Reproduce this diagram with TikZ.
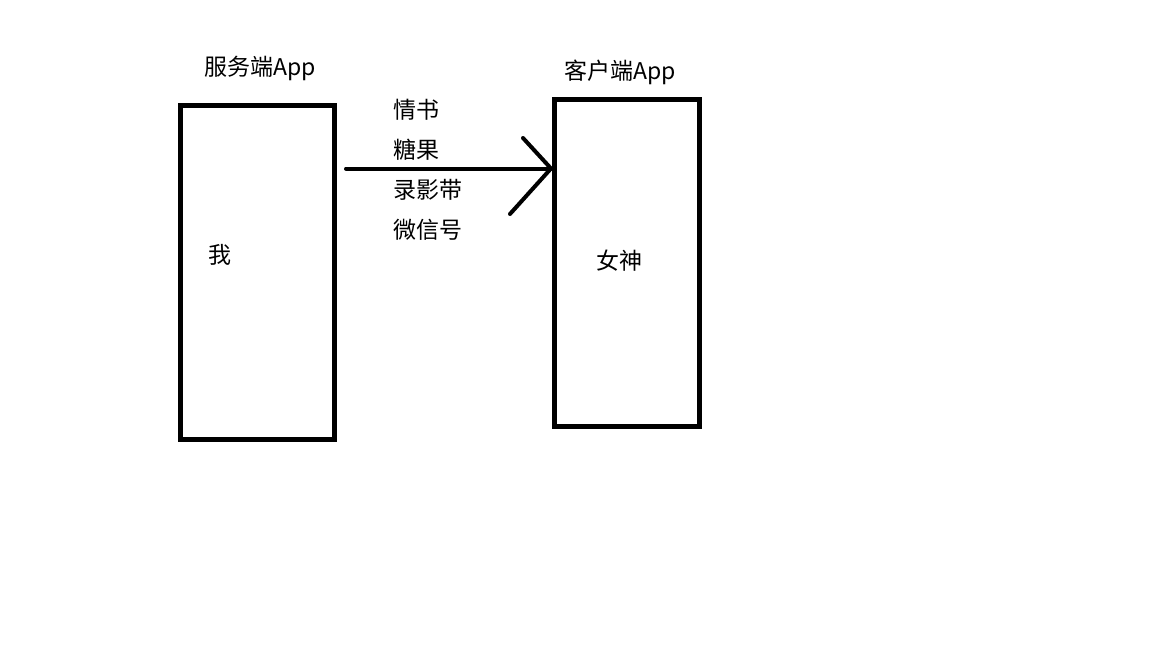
\documentclass[tikz,border=0pt]{standalone}
\usepackage{fontspec}
\setmainfont{Noto Sans CJK SC}
\begin{document}
\begin{tikzpicture}[x=1pt,y=-1pt,
  box/.style={draw=black,line width=5pt,minimum width=0pt,inner sep=0pt},
  lbl/.style={font=\fontsize{23}{26}\selectfont,inner sep=0pt,anchor=west},
  conn/.style={line width=4pt,line cap=round}]
\useasboundingbox[fill=white] (0,0) rectangle (1152,648);
\draw[box] (180.5,105.5) rectangle (334.5,439.5);
\draw[box] (554.5,99.5) rectangle (699.5,426);
\coordinate (a0) at (346,168.5);
\coordinate (a1) at (551,168.5);
\coordinate (h1) at (523,138);
\coordinate (h2) at (510,214);
\draw[conn] (a0) -- (a1);
\draw[conn] (h1) -- (a1) -- (h2);
\node[lbl] (t1) at (204,68) {服务端App};
\node[lbl] (t2) at (564,72) {客户端App};
\node[lbl] (m1) at (393,110) {情书};
\node[lbl] (m2) at (393,150) {糖果};
\node[lbl] (m3) at (393,190) {录影带};
\node[lbl] (m4) at (393,230) {微信号};
\node[lbl] (me) at (208,255) {我};
\node[lbl] (her) at (596,261) {女神};
\end{tikzpicture}
\end{document}
